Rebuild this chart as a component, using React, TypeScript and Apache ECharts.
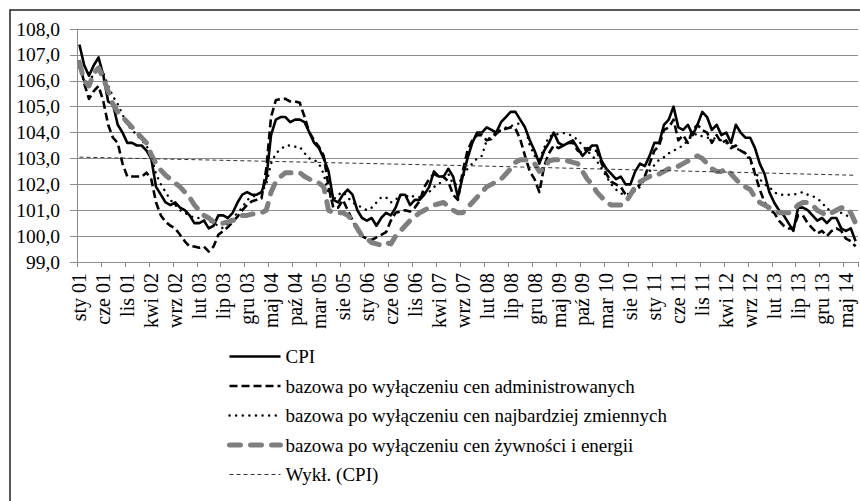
import React, { useEffect, useRef } from "react";
import * as echarts from "echarts";

const monthNames = ["sty", "lut", "mar", "kwi", "maj", "cze", "lip", "sie", "wrz", "paź", "lis", "gru"];
const startYear = 2001;
const monthCount = 163;
const categories = Array.from({ length: monthCount }, (_, i) =>
  `${monthNames[i % 12]} ${String((startYear + Math.floor(i / 12)) % 100).padStart(2, "0")}`
);

const seriesNames = [
  "CPI",
  "bazowa po wyłączeniu cen administrowanych",
  "bazowa po wyłączeniu cen najbardziej zmiennych",
  "bazowa po wyłączeniu cen żywności i energii",
  "Wykł. (CPI)",
];

const cpi = [
  107.4, 106.6, 106.2, 106.6, 106.9, 106.2, 105.2, 105.1, 104.3, 104.0, 103.6, 103.6,
  103.5, 103.5, 103.3, 103.0, 101.9, 101.6, 101.3, 101.2, 101.3, 101.1, 101.0, 100.8,
  100.5, 100.5, 100.6, 100.3, 100.4, 100.8, 100.8, 100.7, 100.9, 101.3, 101.6, 101.7,
  101.6, 101.6, 101.7, 102.2, 103.9, 104.5, 104.6, 104.6, 104.4, 104.5, 104.5, 104.4,
  104.0, 103.6, 103.4, 103.0, 102.5, 101.4, 101.3, 101.6, 101.8, 101.6, 101.0, 100.7,
  100.6, 100.7, 100.4, 100.7, 100.9, 100.8, 101.1, 101.6, 101.6, 101.2, 101.4, 101.4,
  101.6, 101.9, 102.5, 102.3, 102.3, 102.6, 102.3, 101.5, 102.3, 103.0, 103.6, 104.0,
  104.0, 104.2, 104.1, 104.0, 104.4, 104.6, 104.8, 104.8, 104.5, 104.2, 103.7, 103.3,
  102.8, 103.3, 103.6, 104.0, 103.6, 103.5, 103.6, 103.7, 103.4, 103.1, 103.3, 103.5,
  103.5, 102.9, 102.6, 102.4, 102.2, 102.3, 102.0, 102.0, 102.5, 102.8, 102.7, 103.1,
  103.6, 103.6, 104.3, 104.5, 105.0, 104.2, 104.1, 104.3, 103.9, 104.3, 104.8, 104.6,
  104.1, 104.3, 103.9, 104.0, 103.6, 104.3, 104.0, 103.8, 103.8, 103.4, 102.8, 102.4,
  101.7, 101.3, 101.0, 100.8, 100.5, 100.2, 101.1, 101.1, 101.0, 100.8, 100.6, 100.7,
  100.5, 100.7, 100.7, 100.3, 100.2, 100.3, 99.8,
];

const exclAdministered = [
  106.8, 105.9, 105.3, 105.6, 105.8, 105.2, 104.3, 103.8, 103.6, 102.8, 102.3, 102.3,
  102.3, 102.3, 102.45, 102.2, 101.3, 100.8, 100.55, 100.4, 100.3, 100.05, 99.8, 99.6,
  99.6, 99.55, 99.6, 99.4, 99.6, 100.05, 100.2, 100.35, 100.55, 100.75, 101.0, 101.2,
  101.35, 101.4, 101.45, 102.6, 104.6, 105.25, 105.3, 105.3, 105.2, 105.2, 105.15, 104.6,
  104.0, 103.7, 103.45, 103.1, 101.9, 101.1, 101.1, 101.4, 101.0, 100.6, 100.25, 100.0,
  99.9, 99.85, 99.95, 100.05, 100.15, 100.6, 100.9, 100.95, 101.0, 100.95, 101.1, 101.35,
  101.9, 102.2, 102.4, 102.3, 102.3, 102.1, 101.6, 101.4, 102.5, 103.3, 103.7, 103.9,
  103.9, 103.7, 103.75, 103.95, 104.1, 104.15, 104.2, 104.15, 103.75, 103.1, 102.5, 102.2,
  101.7, 102.7, 103.2, 103.5, 103.4, 103.5, 103.6, 103.6, 103.3, 103.2, 103.4, 103.3,
  103.3, 102.8, 102.4, 102.1, 102.0, 101.9, 101.6, 101.6, 101.8, 102.0, 102.3, 102.8,
  103.3, 103.5, 104.1, 104.2, 104.5, 103.7, 103.9, 103.6, 104.1, 104.3, 104.1, 104.0,
  103.6, 103.9, 103.6, 103.7, 103.4, 103.5, 103.3, 103.2, 103.0, 102.4, 101.8, 101.3,
  101.0, 100.9, 100.6, 100.4, 100.3, 100.3, 100.8, 100.8, 100.5, 100.3, 100.1, 100.2,
  100.0, 100.2, 100.3, 100.2, 99.9, 99.8, 99.6,
];

const exclVolatile = [
  106.5, 106.0, 105.9, 106.3, 106.5, 106.3, 105.8, 105.4, 105.1, 104.7, 104.3, 104.1,
  103.9, 103.7, 103.5, 103.1, 102.4, 102.0, 101.7, 101.4, 101.2, 101.0, 100.9, 100.8,
  100.7, 100.7, 100.6, 100.6, 100.5, 100.4, 100.3, 100.5, 100.7, 100.9, 101.1, 101.4,
  101.5, 101.6, 101.7, 102.0, 102.8, 103.2, 103.35, 103.5, 103.5, 103.45, 103.45, 103.2,
  103.0, 102.95, 102.8, 102.4, 101.6, 101.4, 101.6, 101.7, 101.5, 101.3, 101.2, 101.1,
  101.0, 101.1, 101.3, 101.5, 101.5, 101.3, 101.4, 101.6, 101.5, 101.6, 101.5, 101.5,
  101.7, 101.7, 101.9, 102.0, 102.2, 102.4, 102.0, 102.0, 102.3, 102.6, 102.8, 103.0,
  103.1, 103.7, 103.85, 104.0, 104.1, 104.2, 104.25, 104.3, 104.37, 104.25, 103.5, 103.1,
  102.95, 103.4, 103.85, 103.9, 103.95, 103.98, 103.95, 103.85, 103.72, 103.5, 103.3, 103.1,
  102.9, 102.6, 102.3, 102.0, 101.8, 101.65, 101.6, 101.65, 101.75, 101.9, 102.2, 102.5,
  102.75, 102.95, 103.05, 103.2, 103.3, 103.4, 103.5, 103.7, 103.9, 103.95, 103.85, 103.8,
  103.8, 103.75, 103.7, 103.6, 103.5, 103.4, 103.3, 103.2, 102.9, 102.5, 102.2, 102.0,
  101.9, 101.7, 101.6, 101.6, 101.6, 101.6, 101.65, 101.7, 101.6, 101.55, 101.45, 101.3,
  101.05, 101.0, 100.95, 100.9, 100.8, 100.75, 100.6,
];

const exclFoodEnergy = [
  106.7, 106.0, 105.8, 106.3, 106.5, 106.1, 105.6, 105.1, 104.8, 104.6, 104.4, 104.2,
  104.0, 103.8, 103.6, 103.15, 102.8, 102.55, 102.35, 102.2, 102.05, 101.9, 101.7, 101.5,
  101.2, 101.0, 100.8, 100.7, 100.55, 100.5, 100.5, 100.55, 100.6, 100.7, 100.8, 100.8,
  100.85, 100.85, 100.9, 101.0, 101.7, 102.1, 102.3, 102.45, 102.45, 102.45, 102.45, 102.3,
  102.2, 102.1, 102.05, 101.9, 101.0, 100.9, 100.9, 100.9, 100.8, 100.6, 100.3, 100.0,
  99.9, 99.75, 99.7, 99.65, 99.75, 99.7, 100.0, 100.2, 100.4, 100.6, 100.75, 100.9,
  101.0, 101.1, 101.2, 101.25, 101.3, 101.15, 101.0, 100.9, 100.9, 101.1, 101.3, 101.5,
  101.7, 101.9, 102.0, 102.1, 102.2, 102.4, 102.6, 102.85, 102.95, 102.95, 102.9, 102.8,
  102.5, 102.6, 102.9, 102.95, 102.95, 102.95, 102.9, 102.85, 102.8, 102.5, 102.2, 102.0,
  101.7, 101.5, 101.3, 101.2, 101.2, 101.2, 101.3, 101.6, 101.9, 102.1, 102.2, 102.3,
  102.4, 102.4, 102.5, 102.6, 102.6, 102.7, 102.8, 102.9, 103.0, 103.1, 103.0, 102.8,
  102.6, 102.5, 102.5, 102.6, 102.4, 102.2, 102.0, 101.9, 101.8, 101.5, 101.3, 101.2,
  101.1, 101.0, 100.9, 100.9, 100.9, 101.0, 101.2, 101.3, 101.3, 101.2, 101.0, 100.9,
  100.8, 100.9, 101.0, 101.1, 101.1, 100.9, 100.5,
];

// trend line (Wykł. (CPI)) read at a few months; ECharts joins them
const trendIndex = [0, 81, 162];
const trendValue = [103.05, 102.72, 102.35];

const yMin = 99;
const yMax = 108;
const yStep = 1;

const FONT = "'Liberation Serif', 'Times New Roman', serif";

export default function App() {
  const ref = useRef<HTMLDivElement>(null);

  useEffect(() => {
    if (!ref.current) return;
    const chart = echarts.init(ref.current, null, { renderer: "svg" });

    const trendData: (number | null)[] = categories.map(() => null);
    trendIndex.forEach((idx, k) => {
      trendData[idx] = trendValue[k];
    });

    const styles = [
      { color: "#000000", width: 2.6, type: "solid" as any, cap: "butt" },
      { color: "#000000", width: 2.6, type: [8, 4] as any, cap: "butt" },
      { color: "#000000", width: 2.4, type: [0.1, 6.5] as any, cap: "round" },
      { color: "#7f7f7f", width: 5, type: [11, 10] as any, cap: "round" },
      { color: "#333333", width: 1, type: [4, 3] as any, cap: "butt" },
    ];
    const dataSets = [cpi, exclAdministered, exclVolatile, exclFoodEnergy, trendData];

    const series = seriesNames.map((name, k) => ({
      name,
      type: "line",
      data: dataSets[k],
      symbol: "none",
      connectNulls: true,
      silent: true,
      lineStyle: {
        color: styles[k].color,
        width: styles[k].width,
        type: styles[k].type,
        cap: styles[k].cap,
        join: "round",
      },
      itemStyle: { color: styles[k].color },
      z: 2 + k,
    }));

    chart.setOption({
      animation: false,
      backgroundColor: "#ffffff",
      textStyle: { fontFamily: FONT },
      graphic: [
        {
          type: "rect",
          shape: { x: 10, y: 10, width: 860, height: 500 },
          style: { fill: "none", stroke: "#222222", lineWidth: 1.5 },
          silent: true,
        },
      ],
      grid: { left: 77, top: 29, width: 781, height: 233, containLabel: false },
      xAxis: {
        type: "category",
        data: categories,
        boundaryGap: true,
        axisLine: { show: true, lineStyle: { color: "#8c8c8c", width: 1 } },
        axisTick: { show: true, interval: 4, length: 5, lineStyle: { color: "#8c8c8c" } },
        axisLabel: {
          interval: 4,
          rotate: 90,
          margin: 11,
          fontFamily: FONT,
          fontSize: 20,
          color: "#000000",
        },
        splitLine: { show: false },
      },
      yAxis: {
        type: "value",
        min: yMin,
        max: yMax,
        interval: yStep,
        axisLine: { show: true, lineStyle: { color: "#8c8c8c", width: 1 } },
        axisTick: { show: true, length: 7, lineStyle: { color: "#8c8c8c" } },
        axisLabel: {
          margin: 17,
          fontFamily: FONT,
          fontSize: 19.5,
          color: "#000000",
          formatter: (v: number) => v.toFixed(1).replace(".", ","),
        },
        splitLine: { show: true, lineStyle: { color: "#8c8c8c", width: 1 } },
      },
      legend: {
        orient: "vertical",
        left: 222,
        top: 342,
        itemWidth: 51,
        itemHeight: 14,
        itemGap: 10.5,
        selectedMode: false,
        textStyle: { fontFamily: FONT, fontSize: 19, color: "#000000", lineHeight: 19 },
        data: seriesNames.map((name, k) => ({
          name,
          itemStyle: { opacity: 0 },
          lineStyle: {
            color: styles[k].color,
            width: styles[k].width,
            type: styles[k].type,
            cap: styles[k].cap,
            opacity: 1,
          },
        })),
      },
      series,
    });

    return () => chart.dispose();
  }, []);

  return (
    <div
      ref={ref}
      style={{ position: "fixed", left: 0, top: 0, width: 860, height: 501, background: "#fff" }}
    />
  );
}
